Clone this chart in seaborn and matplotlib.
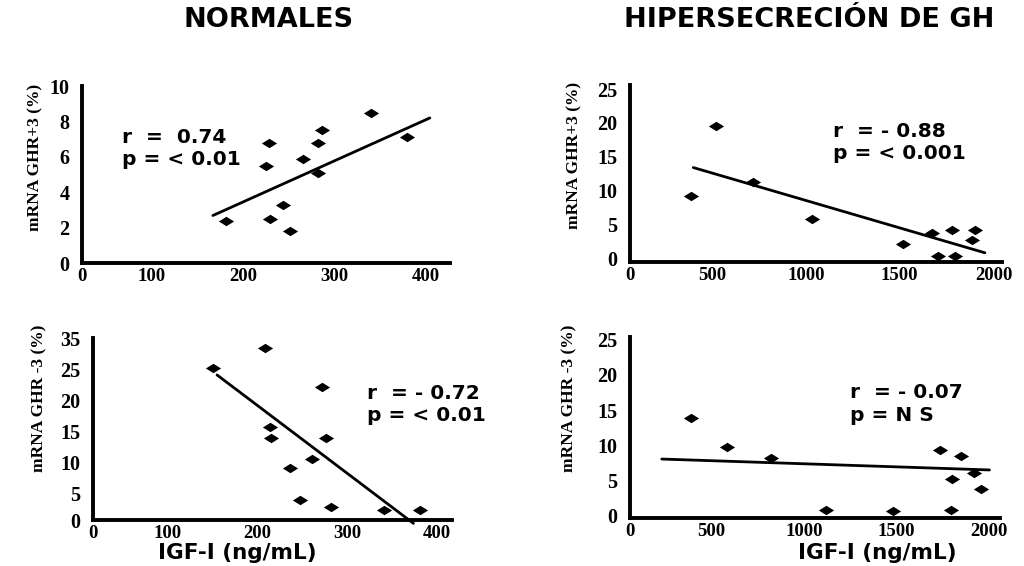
import numpy as np
import pandas as pd
import seaborn as sns
import matplotlib
matplotlib.use("Agg")
import matplotlib.pyplot as plt
from matplotlib.path import Path

# ---------------- data ----------------
# Top-left: NORMALES, mRNA GHR+3 vs IGF-I
tl_x = [181, 228, 225, 229, 244, 251, 265, 282, 282, 286, 340, 379]
tl_y = [2.4, 6.8, 5.5, 2.5, 3.3, 1.85, 5.9, 5.1, 6.8, 7.5, 8.5, 7.1]
tl_fit_x = [167, 404]
tl_fit_y = [2.7, 8.2]

# Top-right: HIPERSECRECION DE GH, mRNA GHR+3 vs IGF-I
tr_x = [387, 520, 720, 1035, 1519, 1674, 1706, 1777, 1794, 1901, 1883]
tr_y = [9.2, 19.5, 11.2, 5.8, 2.1, 3.8, 0.33, 4.2, 0.37, 4.1, 2.7]
tr_fit_x = [401, 1954]
tr_fit_y = [13.4, 0.8]

# Bottom-left: NORMALES, mRNA GHR-3 vs IGF-I
bl_x = [151, 208, 214, 215, 236, 261, 272, 277, 247, 282, 341, 381]
bl_y = [25.2, 28.4, 15.7, 13.9, 9.1, 10.6, 22.2, 13.9, 4.0, 2.8, 2.3, 2.3]
bl_fit_x = [155, 374]
bl_fit_y = [24.1, 0.2]

# Bottom-right: HIPERSECRECION DE GH, mRNA GHR-3 vs IGF-I
br_x = [387, 585, 819, 1121, 1481, 1737, 1850, 1800, 1796, 1922, 1958]
br_y = [13.9, 9.7, 8.2, 0.8, 0.7, 9.3, 8.5, 5.2, 0.8, 6.0, 3.8]
br_fit_x = [231, 2003]
br_fit_y = [8.05, 6.5]

# axis tick labels
normal_xtick_labels = ["0", "100", "200", "300", "400"]
gh_xtick_labels = ["0", "500", "1000", "1500", "2000"]
tl_ytick_labels = ["0", "2", "4", "6", "8", "10"]
tr_ytick_labels = ["0", "5", "10", "15", "20", "25"]
bl_ytick_labels = ["0", "5", "10", "15", "20", "25", "35"]
br_ytick_labels = ["0", "5", "10", "15", "20", "25"]

titles = ["NORMALES", "HIPERSECRECIÓN DE GH"]
ylabel_top = "mRNA GHR+3 (%)"
ylabel_bottom = "mRNA GHR -3 (%)"
xlabel = "IGF-I (ng/mL)"
stats = {
    "tl": ["r  =  0.74", "p = < 0.01"],
    "tr": ["r  = - 0.88", "p = < 0.001"],
    "bl": ["r  = - 0.72", "p = < 0.01"],
    "br": ["r  = - 0.07", "p = N S"],
}

# ---------------- styling ----------------
sns.set_style("white")
plt.rcParams["font.family"] = ["DejaVu Sans"]
plt.rcParams["text.color"] = "black"
plt.rcParams["axes.labelcolor"] = "black"
plt.rcParams["xtick.color"] = "black"
plt.rcParams["ytick.color"] = "black"

W, H = 1024, 566
fig = plt.figure(figsize=(W / 100, H / 100), dpi=100)

def fx(px):
    return px / W

def fy(py):
    return 1 - py / H

def make_ax(left_px, right_px, top_px, bottom_px):
    return fig.add_axes([fx(left_px), fy(bottom_px),
                         (right_px - left_px) / W, (bottom_px - top_px) / H])

diamond = Path([(-1, 0), (0, 0.62), (1, 0), (0, -0.62), (-1, 0)],
               [Path.MOVETO, Path.LINETO, Path.LINETO, Path.LINETO, Path.CLOSEPOLY])

xtick_font = dict(family="Liberation Serif", weight="bold", size=13.5)
ytick_font = dict(family="Liberation Serif", weight="bold", size=14.5)
ylab_font = dict(family="Liberation Serif", weight="bold", size=12.5)
stat_font = dict(family="DejaVu Sans", weight="bold", size=14.5, color="black")
xlab_font = dict(family="DejaVu Sans", weight="bold", size=15.5, color="black")

def panel(ax, x, y, fx_, fy_, xlim, ylim, xticks, xlabels, yticks, ylabels,
          ylab, ylab_pos, stat_lines, stat_pos, xlab_pos=None):
    df = pd.DataFrame({"x": x, "y": y})
    sns.scatterplot(data=df, x="x", y="y", ax=ax, marker=diamond, s=120,
                    color="black", edgecolor="black", linewidth=0, zorder=3)
    dfl = pd.DataFrame({"x": fx_, "y": fy_})
    sns.lineplot(data=dfl, x="x", y="y", ax=ax, color="black", linewidth=2.0,
                 estimator=None, sort=False, zorder=2)
    for l in ax.lines:
        l.set_clip_on(False)
    ax.set_xlim(*xlim)
    ax.set_ylim(*ylim)
    ax.set_xticks(xticks)
    ax.set_xticklabels(xlabels, fontdict=xtick_font)
    ax.set_yticks(yticks)
    ax.set_yticklabels(ylabels, fontdict=ytick_font)
    for s in ["top", "right"]:
        ax.spines[s].set_visible(False)
    for s in ["left", "bottom"]:
        ax.spines[s].set_linewidth(2.8)
        ax.spines[s].set_color("black")
    ax.tick_params(axis="y", direction="out", length=4, width=2, pad=5, colors="black")
    ax.tick_params(axis="x", direction="out", length=2.5, width=2.5, pad=1, colors="black")
    ax.set_ylabel(ylab, fontdict=ylab_font, color="black")
    ax.yaxis.set_label_coords(*ylab_pos)
    ax.set_xlabel("")
    if xlab_pos is not None:
        fig.text(fx(xlab_pos[0]), fy(xlab_pos[1]), xlabel, ha="center",
                 va="baseline", **xlab_font)
    ax.patch.set_alpha(0)
    (lx, b1, b2) = stat_pos
    fig.text(fx(lx), fy(b1), stat_lines[0], ha="left", va="baseline", **stat_font)
    fig.text(fx(lx), fy(b2), stat_lines[1], ha="left", va="baseline", **stat_font)

# Top-left
ax1 = make_ax(82, 450, 86, 263.4)
tl_xlim = (24, 426)
panel(ax1, tl_x, tl_y, tl_fit_x, tl_fit_y, tl_xlim, (0, 10),
      [tl_xlim[0], 100, 200, 300, 400], normal_xtick_labels,
      [0, 2, 4, 6, 8, 10], tl_ytick_labels,
      ylabel_top, (-0.106, 0.6), stats["tl"], (122, 143, 165))

# Top-right
ax2 = make_ax(630, 1002, 85, 262)
tr_xlim = (64, 2045)
panel(ax2, tr_x, tr_y, tr_fit_x, tr_fit_y, tr_xlim, (-0.56, 25.6),
      [tr_xlim[0], 500, 1000, 1500, 2000], gh_xtick_labels,
      [0, 5, 10, 15, 20, 25], tr_ytick_labels,
      ylabel_top, (-0.129, 0.6), stats["tr"], (833, 137, 159))

# Bottom-left
ax3 = make_ax(93, 452, 338.3, 520)
bl_xlim = (16.7, 417)
bl_ylim = (0.74, 30)
panel(ax3, bl_x, bl_y, bl_fit_x, bl_fit_y, bl_xlim, bl_ylim,
      [bl_xlim[0], 100, 200, 300, 400], normal_xtick_labels,
      [bl_ylim[0], 5, 10, 15, 20, 25, 30], bl_ytick_labels,
      ylabel_bottom, (-0.128, 0.668), stats["bl"], (367, 399, 421),
      xlab_pos=(237, 559))

# Bottom-right
ax4 = make_ax(630, 1000, 337, 518)
br_xlim = (59, 2060)
panel(ax4, br_x, br_y, br_fit_x, br_fit_y, br_xlim, (-0.33, 25.4),
      [br_xlim[0], 500, 1000, 1500, 2000], gh_xtick_labels,
      [0, 5, 10, 15, 20, 25], br_ytick_labels,
      ylabel_bottom, (-0.143, 0.663), stats["br"], (850, 398, 421),
      xlab_pos=(877, 559))

# Column titles
fig.text(fx(269), fy(27), titles[0], ha="center", va="baseline",
         family="DejaVu Sans", weight="bold", size=19.5, color="black")
fig.text(fx(809), fy(27), titles[1], ha="center", va="baseline",
         family="DejaVu Sans", weight="bold", size=19.5, color="black")

fig.savefig("out.png", dpi=100, facecolor="white")
